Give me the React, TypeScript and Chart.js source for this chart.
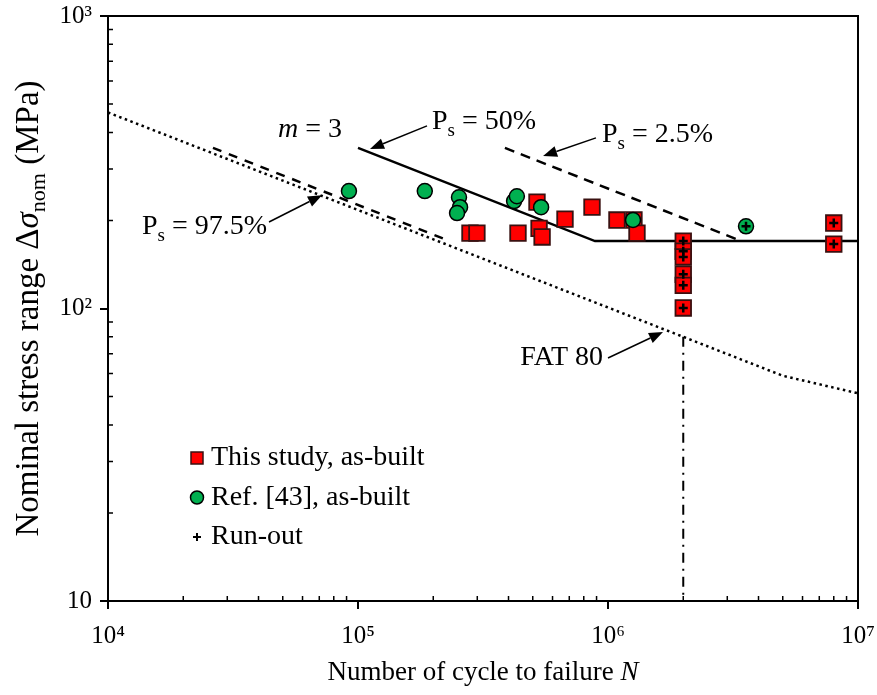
import React, { useEffect, useRef } from "react";
import { Chart, registerables } from "chart.js";

Chart.register(...registerables);

// ---------- data ----------
const studyN = [280500, 299000, 436500, 520000, 530000, 545000, 673000, 863000, 1086000, 1270000, 1306000, 2000000, 2000000, 2000000, 2000000, 2000000, 2000000, 8000000, 8000000];
const studyS = [181, 181, 181, 231, 188, 175.6, 202, 222, 200.7, 200.7, 181, 170, 157, 150, 131, 120, 100.4, 196, 166];

const refN = [92000, 185000, 253500, 256000, 249000, 421000, 432000, 540000, 1259000, 3565000];
const refS = [252, 252, 240, 222, 212, 233, 242, 222, 200.7, 191];

const runoutN = [2000000, 2000000, 2000000, 2000000, 2000000, 2000000, 8000000, 8000000, 3565000];
const runoutS = [170, 157, 150, 131, 120, 100.4, 196, 166, 191];

const ps50N = [100000, 887000, 10000000];
const ps50S = [354, 170, 170];
const ps25N = [387000, 3300000];
const ps25S = [354, 172];
const ps975N = [26300, 229000];
const ps975S = [354, 171];
const fatN = [10000, 2000000, 5000000, 10000000];
const fatS = [468, 80, 58.9, 51.3];
const cutoffN = [2000000, 2000000];
const cutoffS = [80, 10];

const xTickValues = [1e4, 1e5, 1e6, 1e7];
const xTickLabels = ["10\u2074", "10\u2075", "10\u2076", "10\u2077"];
const yTickValues = [10, 100, 1000];
const yTickLabels = ["10", "10\u00B2", "10\u00B3"];

const FAMILY = "'Liberation Serif', 'Times New Roman', serif";

type Seg = { t: string; it?: boolean; sub?: boolean; sup?: boolean };

const annotations: { segs: Seg[]; n: number; s: number; align: "left" | "right" | "center" }[] = [
  { segs: [{ t: "m", it: true }, { t: " = 3" }], n: 47900, s: 407.6, align: "left" },
  { segs: [{ t: "P" }, { t: "s", sub: true }, { t: " = 50%" }], n: 197700, s: 434, align: "left" },
  { segs: [{ t: "P" }, { t: "s", sub: true }, { t: " = 2.5%" }], n: 946000, s: 392, align: "left" },
  { segs: [{ t: "P" }, { t: "s", sub: true }, { t: " = 97.5%" }], n: 13680, s: 190, align: "left" },
  { segs: [{ t: "FAT 80" }], n: 955000, s: 67.7, align: "right" },
];

const arrows: { from: [number, number]; to: [number, number] }[] = [
  { from: [188800, 421], to: [111700, 351] },
  { from: [895000, 383], to: [550000, 332] },
  { from: [44060, 197.6], to: [71780, 244] },
  { from: [1000000, 67.7], to: [1660000, 83.1] },
];

const legendItems = [
  { label: "This study, as-built", kind: "square" },
  { label: "Ref. [43], as-built", kind: "circle" },
  { label: "Run-out", kind: "plus" },
];

const RED = "#ff0000";
const RED_BORDER = "#3a1010";
const GREEN = "#00b050";

function pts(n: number[], s: number[]) {
  return n.map((v, i) => ({ x: v, y: s[i] }));
}

function segFont(seg: Seg, size: number) {
  const sz = seg.sub || seg.sup ? Math.round(size * 0.67) : size;
  return `${seg.it ? "italic " : ""}${sz}px ${FAMILY}`;
}

function measureRich(ctx: CanvasRenderingContext2D, segs: Seg[], size: number) {
  let w = 0;
  for (const seg of segs) {
    ctx.font = segFont(seg, size);
    w += ctx.measureText(seg.t).width;
  }
  return w;
}

function drawRich(ctx: CanvasRenderingContext2D, segs: Seg[], x: number, y: number, size: number, align: string) {
  const w = measureRich(ctx, segs, size);
  let cx = align === "left" ? x : align === "right" ? x - w : x - w / 2;
  ctx.textBaseline = "middle";
  ctx.textAlign = "left";
  for (const seg of segs) {
    ctx.font = segFont(seg, size);
    const dy = seg.sub ? size * 0.32 : seg.sup ? -size * 0.35 : 0;
    ctx.fillText(seg.t, cx, y + dy);
    cx += ctx.measureText(seg.t).width;
  }
}

const decorPlugin = {
  id: "decor",
  afterDraw(chart: any) {
    const ctx: CanvasRenderingContext2D = chart.ctx;
    const xs = chart.scales.x;
    const ys = chart.scales.y;
    const { left, right, top, bottom } = chart.chartArea;
    ctx.save();
    ctx.strokeStyle = "#000";
    ctx.fillStyle = "#000";
    // box top & right
    ctx.lineWidth = 2;
    ctx.beginPath();
    ctx.moveTo(left - 1, top);
    ctx.lineTo(right, top);
    ctx.lineTo(right, bottom);
    ctx.stroke();
    // minor ticks (inside)
    ctx.lineWidth = 1.5;
    ctx.beginPath();
    for (let d = 4; d <= 6; d++) {
      for (let k = 2; k <= 9; k++) {
        const px = xs.getPixelForValue(k * Math.pow(10, d));
        ctx.moveTo(px, bottom);
        ctx.lineTo(px, bottom - 5);
      }
    }
    for (let d = 1; d <= 2; d++) {
      for (let k = 2; k <= 9; k++) {
        const py = ys.getPixelForValue(k * Math.pow(10, d));
        ctx.moveTo(left, py);
        ctx.lineTo(left + 5, py);
      }
    }
    ctx.stroke();

    // arrows
    ctx.lineWidth = 1.5;
    for (const a of arrows) {
      const x1 = xs.getPixelForValue(a.from[0]);
      const y1 = ys.getPixelForValue(a.from[1]);
      const x2 = xs.getPixelForValue(a.to[0]);
      const y2 = ys.getPixelForValue(a.to[1]);
      const ang = Math.atan2(y2 - y1, x2 - x1);
      const hl = 14;
      const hw = 5.5;
      const bx = x2 - hl * Math.cos(ang);
      const by = y2 - hl * Math.sin(ang);
      ctx.beginPath();
      ctx.moveTo(x1, y1);
      ctx.lineTo(bx, by);
      ctx.stroke();
      ctx.beginPath();
      ctx.moveTo(x2, y2);
      ctx.lineTo(bx + hw * Math.sin(ang), by - hw * Math.cos(ang));
      ctx.lineTo(bx - hw * Math.sin(ang), by + hw * Math.cos(ang));
      ctx.closePath();
      ctx.fill();
    }

    // annotations
    for (const an of annotations) {
      drawRich(ctx, an.segs, xs.getPixelForValue(an.n), ys.getPixelForValue(an.s), 28, an.align);
    }

    // legend
    const lx = left + 89;
    const ly0 = top + 442;
    const gap = 39.5;
    legendItems.forEach((it, i) => {
      const y = ly0 + i * gap;
      if (it.kind === "square") {
        ctx.fillStyle = RED;
        ctx.fillRect(lx - 6, y - 6, 12, 12);
        ctx.strokeStyle = RED_BORDER;
        ctx.lineWidth = 1.5;
        ctx.strokeRect(lx - 6, y - 6, 12, 12);
      } else if (it.kind === "circle") {
        ctx.fillStyle = GREEN;
        ctx.beginPath();
        ctx.arc(lx, y, 6.5, 0, Math.PI * 2);
        ctx.fill();
        ctx.strokeStyle = "#000";
        ctx.lineWidth = 1.5;
        ctx.stroke();
      } else {
        ctx.strokeStyle = "#000";
        ctx.lineWidth = 2;
        ctx.beginPath();
        ctx.moveTo(lx - 4, y);
        ctx.lineTo(lx + 4, y);
        ctx.moveTo(lx, y - 4);
        ctx.lineTo(lx, y + 4);
        ctx.stroke();
      }
      ctx.fillStyle = "#000";
      drawRich(ctx, [{ t: it.label }], lx + 14, y, 28, "left");
    });

    // axis titles
    const cxTitle = (left + right) / 2;
    drawRich(ctx, [{ t: "Number of cycle to failure " }, { t: "N", it: true }], cxTitle, bottom + 72, 27, "center");
    ctx.save();
    ctx.translate(29, (top + bottom) / 2);
    ctx.rotate(-Math.PI / 2);
    drawRich(
      ctx,
      [{ t: "Nominal stress range \u0394" }, { t: "\u03C3", it: true }, { t: "nom", sub: true }, { t: " (MPa)" }],
      0,
      0,
      33,
      "center"
    );
    ctx.restore();
    ctx.restore();
  },
};

export default function App() {
  const ref = useRef<HTMLCanvasElement>(null);
  useEffect(() => {
    if (!ref.current) return;
    const tickFont = { family: FAMILY, size: 25 };
    const chart = new Chart(ref.current, {
      type: "scatter",
      data: {
        datasets: [
          {
            label: "Run-out",
            data: pts(runoutN, runoutS),
            pointStyle: "cross",
            pointRadius: 4.5,
            pointBorderWidth: 2.5,
            borderColor: "#000",
            backgroundColor: "#000",
          },
          {
            label: "Ref. [43], as-built",
            data: pts(refN, refS),
            pointStyle: "circle",
            pointRadius: 7.5,
            pointBorderWidth: 1.5,
            borderColor: "#000",
            backgroundColor: GREEN,
          },
          {
            label: "This study, as-built",
            data: pts(studyN, studyS),
            pointStyle: "rect",
            pointRadius: 11,
            pointBorderWidth: 1.8,
            borderColor: RED_BORDER,
            backgroundColor: RED,
          },
          {
            label: "Ps = 50%",
            data: pts(ps50N, ps50S),
            showLine: true,
            pointRadius: 0,
            borderColor: "#000",
            borderWidth: 2.5,
          },
          {
            label: "Ps = 2.5%",
            data: pts(ps25N, ps25S),
            showLine: true,
            pointRadius: 0,
            borderColor: "#000",
            borderWidth: 2.5,
            borderDash: [10, 7],
          },
          {
            label: "Ps = 97.5%",
            data: pts(ps975N, ps975S),
            showLine: true,
            pointRadius: 0,
            borderColor: "#000",
            borderWidth: 2.5,
            borderDash: [9, 8],
          },
          {
            label: "FAT 80",
            data: pts(fatN, fatS),
            showLine: true,
            pointRadius: 0,
            borderColor: "#000",
            borderWidth: 2.5,
            borderDash: [2.5, 3.5],
          },
          {
            label: "Cut-off",
            data: pts(cutoffN, cutoffS),
            showLine: true,
            pointRadius: 0,
            borderColor: "#000",
            borderWidth: 2,
            borderDash: [10, 6, 2, 6],
          },
        ],
      },
      options: {
        animation: false,
        responsive: false,
        maintainAspectRatio: false,
        layout: { padding: { top: 16, right: 19, left: 0, bottom: 0 } },
        plugins: { legend: { display: false }, tooltip: { enabled: false } },
        scales: {
          x: {
            type: "logarithmic",
            min: 1e4,
            max: 1e7,
            afterBuildTicks: (s: any) => {
              s.ticks = xTickValues.map((v) => ({ value: v }));
            },
            afterFit: (s: any) => {
              s.height = 94;
              s.paddingLeft = 0;
              s.paddingRight = 0;
              s.paddingTop = 0;
              s.paddingBottom = 0;
            },
            ticks: {
              autoSkip: false,
              maxRotation: 0,
              color: "#000",
              font: tickFont,
              padding: 12,
              callback: (_v: any, i: number) => xTickLabels[i],
            },
            grid: { display: true, drawOnChartArea: false, drawTicks: true, tickLength: 8, color: "#000", lineWidth: 2 },
            border: { display: true, color: "#000", width: 2 },
          },
          y: {
            type: "logarithmic",
            min: 10,
            max: 1000,
            afterBuildTicks: (s: any) => {
              s.ticks = yTickValues.map((v) => ({ value: v }));
            },
            afterFit: (s: any) => {
              s.width = 108;
              s.paddingLeft = 0;
              s.paddingRight = 0;
              s.paddingTop = 0;
              s.paddingBottom = 0;
            },
            ticks: {
              autoSkip: false,
              color: "#000",
              font: tickFont,
              padding: 8,
              callback: (_v: any, i: number) => yTickLabels[i],
            },
            grid: { display: true, drawOnChartArea: false, drawTicks: true, tickLength: 8, color: "#000", lineWidth: 2 },
            border: { display: true, color: "#000", width: 2 },
          },
        },
      },
      plugins: [decorPlugin],
    } as any);
    return () => chart.destroy();
  }, []);
  return (
    <div style={{ position: "absolute", left: 0, top: 0, width: 877, height: 695, background: "#fff" }}>
      <canvas ref={ref} width={877} height={695} style={{ width: 877, height: 695 }} />
    </div>
  );
}
